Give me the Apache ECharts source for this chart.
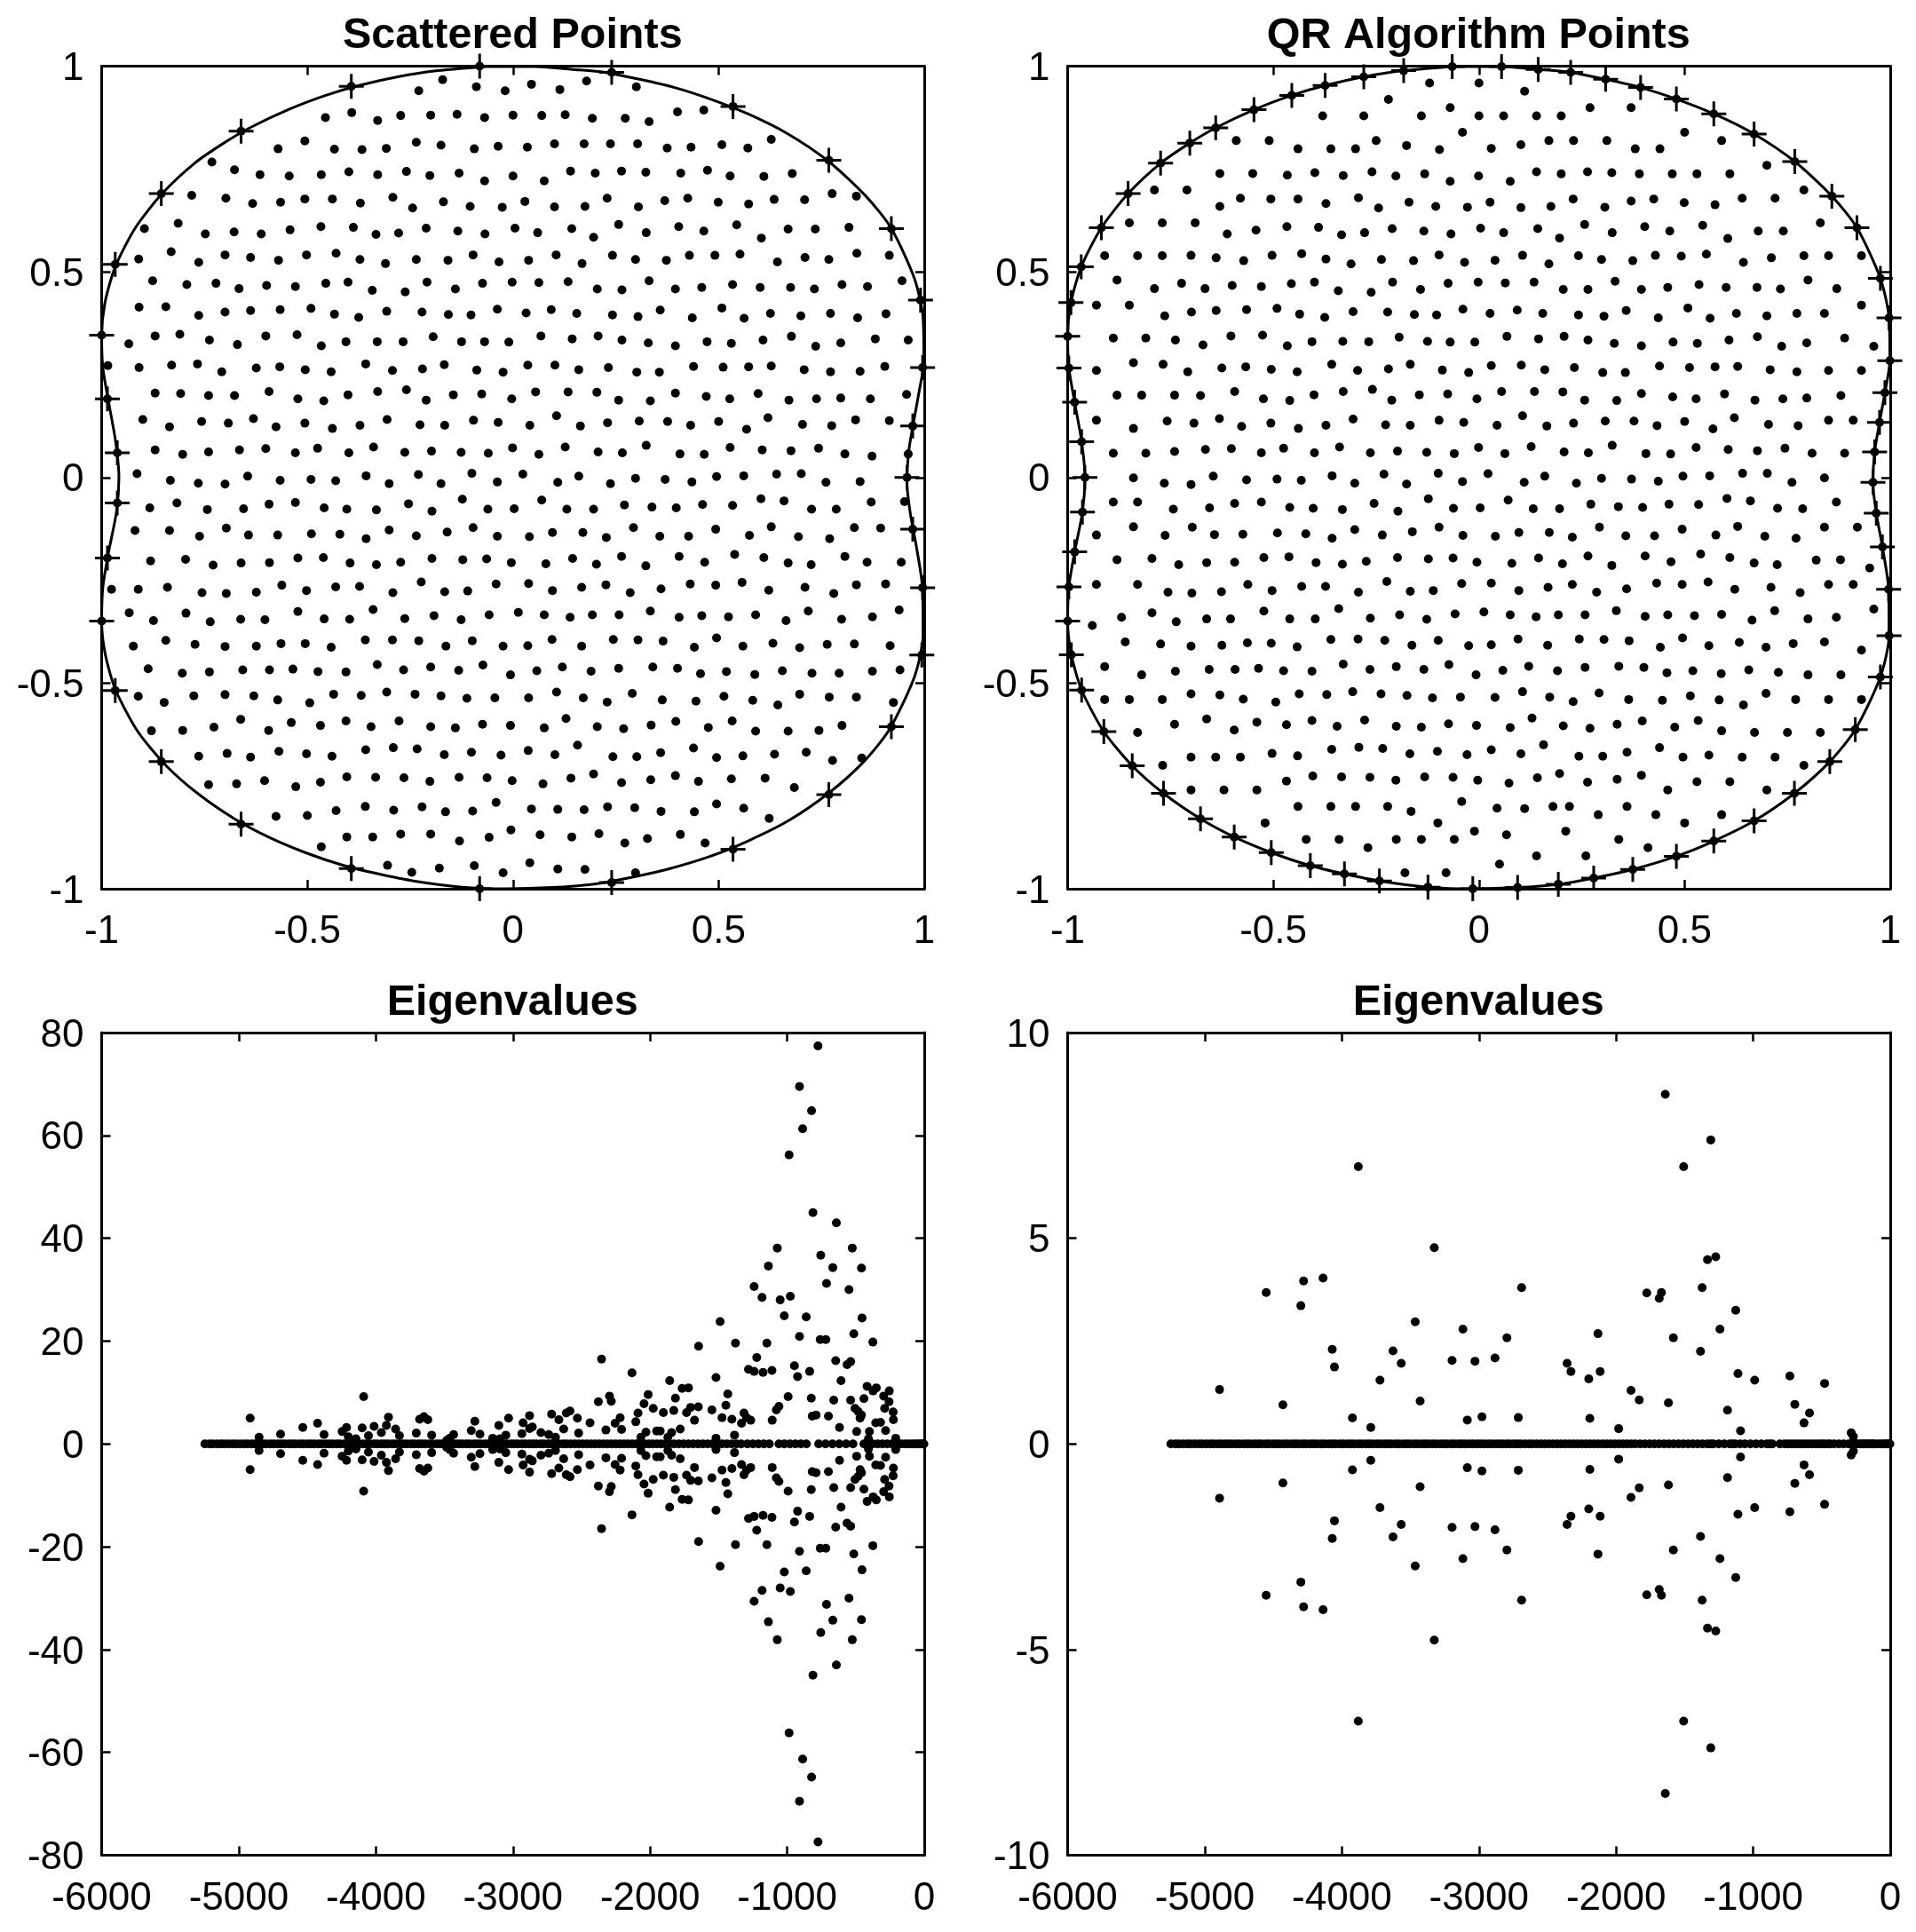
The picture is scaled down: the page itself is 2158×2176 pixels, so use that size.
<!DOCTYPE html>
<html><head><meta charset="utf-8">
<style>html,body{margin:0;padding:0;background:#fff}#c{width:2158px;height:2176px}</style>
<script src="https://cdn.jsdelivr.net/npm/echarts@6/dist/echarts.min.js"></script>
</head><body><div id="c"></div>
<script>
// x,y pairs
const scatteredBoundary=[-.081,1,-.393,.951,-.661,.842,-.855,.690,-.967,.518,-1,.346,-.986,.191,-.962,.060,-.962,-.062,-.986,-.196,-1,-.349,-.967,-.518,-.855,-.691,-.661,-.843,-.393,-.951,-.081,-1,.240,-.985,.535,-.904,.768,-.771,.920,-.606,.994,-.432,.996,-.268,.972,-.126,.958,0,.972,.125,.996,.267,.991,.431,.920,.605,.768,.771,.535,.902,.240,.985];
const scatteredInterior=[
-.229,.940,-.171,.967,-.089,.950,-.019,.940,.045,.956,.114,.943,.179,.964,.300,.950,
-.456,.875,-.392,.887,-.329,.868,-.273,.880,-.200,.881,-.136,.883,-.069,.875,0,.881,.070,.880,.127,.882,.193,.873,.273,.873,.331,.865,.400,.889,.464,.893,
-.571,.799,-.506,.818,-.434,.798,-.367,.797,-.308,.800,-.235,.815,-.175,.808,-.094,.799,-.036,.805,.035,.803,.101,.811,.173,.811,.237,.811,.303,.811,.375,.801,.433,.803,.508,.809,.571,.801,.628,.822,
-.732,.767,-.677,.748,-.615,.736,-.544,.733,-.466,.736,-.399,.743,-.329,.736,-.259,.744,-.202,.734,-.131,.740,-.069,.721,0,.733,.076,.721,.140,.745,.200,.740,.264,.745,.323,.742,.408,.740,.473,.747,.528,.733,.610,.732,.679,.739,
-.781,.686,-.698,.679,-.633,.666,-.565,.669,-.506,.677,-.439,.677,-.371,.667,-.292,.681,-.244,.655,-.169,.670,-.104,.659,-.026,.657,.029,.671,.101,.658,.175,.659,.229,.679,.305,.658,.369,.673,.425,.679,.499,.669,.573,.665,.635,.676,.709,.675,.776,.690,.835,.684,
-.896,.605,-.814,.618,-.748,.592,-.678,.597,-.612,.592,-.542,.602,-.467,.610,-.388,.608,-.333,.591,-.278,.594,-.211,.606,-.134,.599,-.068,.592,.005,.606,.060,.595,.143,.605,.196,.584,.257,.615,.324,.595,.403,.610,.464,.599,.544,.614,.604,.582,.669,.604,.735,.604,.817,.608,
-.910,.531,-.831,.549,-.764,.523,-.700,.541,-.638,.535,-.570,.528,-.502,.541,-.430,.545,-.372,.530,-.310,.520,-.235,.530,-.158,.528,-.097,.541,-.034,.524,.038,.528,.105,.541,.168,.520,.242,.540,.298,.530,.373,.528,.429,.540,.491,.540,.552,.543,.643,.524,.710,.535,.768,.530,.836,.545,.915,.540,
-.876,.478,-.793,.469,-.722,.472,-.666,.459,-.599,.467,-.529,.464,-.455,.472,-.401,.475,-.342,.455,-.262,.451,-.209,.475,-.140,.458,-.074,.472,-.002,.475,.063,.474,.134,.476,.205,.458,.265,.456,.331,.478,.395,.458,.459,.462,.534,.469,.601,.462,.675,.462,.733,.458,.800,.469,.862,.464,.946,.478,
-.909,.414,-.844,.415,-.764,.394,-.700,.402,-.638,.406,-.566,.408,-.491,.411,-.434,.397,-.375,.389,-.307,.404,-.221,.402,-.157,.396,-.102,.395,-.038,.409,.032,.400,.093,.408,.155,.399,.242,.395,.304,.391,.358,.407,.436,.388,.508,.412,.562,.387,.626,.399,.700,.393,.772,.399,.838,.388,.907,.398,
-.934,.325,-.870,.344,-.810,.348,-.738,.334,-.670,.323,-.601,.344,-.525,.347,-.466,.320,-.406,.330,-.330,.330,-.267,.330,-.194,.342,-.125,.330,-.069,.330,-.010,.329,.068,.344,.144,.337,.207,.344,.265,.334,.329,.327,.395,.320,.472,.330,.531,.326,.608,.334,.677,.343,.736,.319,.797,.327,.881,.337,.961,.334,
-.985,.272,-.909,.267,-.830,.273,-.767,.276,-.708,.257,-.624,.266,-.567,.269,-.505,.262,-.442,.257,-.358,.276,-.293,.260,-.220,.264,-.167,.274,-.088,.261,-.024,.256,.036,.273,.102,.273,.160,.262,.232,.267,.301,.256,.356,.256,.439,.270,.511,.268,.573,.269,.628,.271,.708,.262,.772,.257,.844,.258,.904,.270,
-.870,.205,-.808,.204,-.740,.199,-.677,.199,-.593,.209,-.523,.191,-.460,.186,-.401,.201,-.329,.209,-.259,.213,-.211,.188,-.145,.201,-.076,.203,-.003,.191,.055,.208,.134,.208,.204,.207,.257,.188,.334,.186,.395,.205,.470,.197,.527,.191,.596,.204,.671,.188,.738,.191,.797,.193,.869,.191,.957,.202,
-.900,.141,-.835,.123,-.757,.136,-.692,.132,-.631,.143,-.576,.123,-.506,.132,-.439,.119,-.372,.127,-.306,.141,-.226,.128,-.166,.127,-.096,.139,-.036,.134,.041,.127,.106,.150,.164,.125,.230,.133,.307,.137,.376,.136,.432,.127,.500,.136,.568,.117,.620,.145,.704,.129,.775,.126,.833,.140,.915,.138,
-.870,.067,-.803,.056,-.740,.062,-.665,.067,-.601,.070,-.529,.060,-.475,.071,-.399,.060,-.339,.074,-.263,.061,-.198,.064,-.126,.061,-.060,.059,-.001,.072,.063,.056,.127,.074,.207,.062,.266,.060,.324,.078,.406,.057,.465,.056,.528,.073,.606,.067,.676,.065,.743,.071,.807,.057,.873,.052,.961,.057,
-.914,.009,-.833,-.007,-.765,-.014,-.700,-.016,-.645,.003,-.566,-.007,-.491,-.005,-.431,-.008,-.357,.004,-.301,-.015,-.230,.007,-.175,-.015,-.100,.010,-.038,-.011,.024,.008,.109,-.012,.160,.003,.237,-.015,.298,-.002,.370,-.005,.435,-.011,.495,.002,.561,.004,.641,.008,.701,.009,.761,-.012,.844,-.010,
-.883,-.074,-.817,-.062,-.743,-.078,-.655,-.076,-.593,-.065,-.529,-.061,-.459,-.074,-.404,-.077,-.332,-.079,-.254,-.064,-.197,-.082,-.123,-.053,-.061,-.077,.003,-.076,.070,-.055,.131,-.077,.196,-.077,.271,-.067,.338,-.072,.397,-.074,.461,-.066,.534,-.068,.603,-.052,.659,-.057,.726,-.077,.786,-.077,.871,-.060,.952,-.059,
-.919,-.129,-.835,-.129,-.762,-.143,-.697,-.123,-.643,-.140,-.572,-.140,-.490,-.137,-.421,-.138,-.357,-.149,-.301,-.128,-.235,-.142,-.160,-.133,-.097,-.122,-.038,-.143,.040,-.144,.096,-.134,.170,-.134,.227,-.146,.293,-.122,.357,-.143,.427,-.143,.493,-.126,.575,-.141,.628,-.120,.694,-.144,.770,-.149,.830,-.122,.894,-.123,
-.881,-.203,-.796,-.199,-.729,-.213,-.661,-.208,-.592,-.207,-.523,-.196,-.461,-.195,-.396,-.208,-.332,-.212,-.273,-.206,-.197,-.197,-.122,-.200,-.064,-.198,-.004,-.207,.080,-.210,.145,-.197,.203,-.211,.264,-.192,.323,-.215,.404,-.192,.466,-.206,.539,-.187,.610,-.195,.669,-.208,.725,-.212,.807,-.192,.861,-.206,.944,-.206,
-.976,-.272,-.911,-.272,-.840,-.267,-.756,-.280,-.697,-.282,-.624,-.279,-.562,-.262,-.502,-.275,-.431,-.266,-.373,-.265,-.292,-.280,-.223,-.254,-.166,-.278,-.110,-.276,-.041,-.259,.038,-.258,.096,-.275,.167,-.267,.226,-.261,.285,-.280,.360,-.271,.431,-.259,.493,-.262,.557,-.255,.622,-.274,.710,-.267,.780,-.282,.835,-.261,.906,-.259,
-.933,-.329,-.874,-.348,-.795,-.330,-.736,-.351,-.662,-.345,-.603,-.346,-.523,-.326,-.459,-.344,-.397,-.345,-.340,-.321,-.263,-.343,-.192,-.336,-.126,-.346,-.058,-.334,.013,-.328,.076,-.334,.139,-.340,.193,-.334,.258,-.334,.334,-.325,.404,-.340,.459,-.336,.524,-.339,.590,-.334,.664,-.348,.718,-.325,.799,-.345,.874,-.339,.939,-.322,
-.923,-.410,-.844,-.396,-.773,-.406,-.700,-.411,-.624,-.410,-.564,-.404,-.505,-.404,-.442,-.413,-.359,-.395,-.293,-.395,-.229,-.397,-.163,-.410,-.099,-.397,-.024,-.410,.036,-.409,.095,-.394,.167,-.410,.244,-.394,.304,-.395,.365,-.398,.441,-.413,.495,-.390,.559,-.410,.632,-.403,.697,-.414,.764,-.406,.830,-.405,.917,-.409,
-.887,-.465,-.804,-.476,-.738,-.473,-.657,-.468,-.592,-.468,-.535,-.466,-.474,-.472,-.406,-.473,-.330,-.455,-.266,-.468,-.200,-.461,-.132,-.469,-.073,-.456,-.006,-.480,.058,-.470,.120,-.461,.190,-.471,.257,-.464,.340,-.461,.400,-.464,.456,-.477,.519,-.472,.588,-.479,.655,-.470,.727,-.476,.793,-.476,.874,-.471,.941,-.468,
-.911,-.532,-.848,-.547,-.776,-.531,-.700,-.528,-.630,-.531,-.572,-.541,-.494,-.548,-.436,-.527,-.369,-.530,-.307,-.522,-.238,-.527,-.175,-.531,-.112,-.537,-.044,-.536,.038,-.536,.106,-.522,.171,-.536,.229,-.546,.290,-.525,.363,-.541,.445,-.544,.513,-.532,.583,-.542,.644,-.553,.697,-.527,.769,-.534,.835,-.534,.925,-.547,
-.879,-.616,-.803,-.615,-.727,-.607,-.662,-.588,-.594,-.615,-.539,-.596,-.468,-.603,-.406,-.592,-.345,-.606,-.277,-.592,-.200,-.606,-.140,-.609,-.074,-.600,-.006,-.603,.076,-.609,.129,-.586,.205,-.606,.269,-.611,.336,-.602,.396,-.593,.475,-.608,.533,-.592,.590,-.617,.669,-.617,.744,-.615,.800,-.603,
-.764,-.678,-.695,-.671,-.638,-.680,-.569,-.666,-.502,-.672,-.440,-.678,-.358,-.662,-.291,-.657,-.233,-.660,-.167,-.674,-.101,-.668,-.029,-.675,.037,-.664,.102,-.674,.157,-.651,.243,-.679,.301,-.679,.359,-.669,.439,-.658,.495,-.681,.559,-.677,.636,-.673,.713,-.668,.777,-.688,.848,-.682,
-.740,-.747,-.672,-.745,-.604,-.737,-.528,-.752,-.468,-.741,-.404,-.728,-.334,-.729,-.265,-.730,-.202,-.739,-.131,-.729,-.063,-.730,-.002,-.737,.073,-.745,.141,-.731,.196,-.721,.264,-.742,.335,-.735,.395,-.725,.451,-.739,.531,-.733,.613,-.731,.684,-.754,
-.576,-.824,-.500,-.822,-.430,-.810,-.359,-.800,-.290,-.809,-.221,-.801,-.164,-.813,-.098,-.811,-.041,-.790,.045,-.806,.109,-.807,.173,-.808,.230,-.801,.296,-.803,.360,-.812,.441,-.813,.495,-.794,.561,-.804,.623,-.829,
-.466,-.898,-.404,-.874,-.341,-.874,-.273,-.867,-.200,-.867,-.130,-.884,-.058,-.875,-.005,-.857,.066,-.869,.143,-.874,.209,-.866,.272,-.889,.327,-.878,.407,-.868,.467,-.889,
-.305,-.943,-.246,-.960,-.179,-.950,-.094,-.944,-.024,-.961,.041,-.937,.109,-.952,.175,-.953,.298,-.961];
const qrBoundary=[-.065,.999,-.183,.989,-.280,.974,-.374,.953,-.455,.929,-.547,.894,-.640,.850,-.703,.813,-.774,.764,-.853,.690,-.918,.607,-.967,.512,-.992,.425,-1,.343,-.997,.266,-.983,.183,-.966,.087,-.958,0,-.964,-.084,-.983,-.181,-.997,-.266,-1,-.349,-.991,-.431,-.966,-.517,-.912,-.618,-.843,-.701,-.767,-.768,-.677,-.830,-.595,-.874,-.505,-.912,-.410,-.944,-.327,-.964,-.242,-.981,-.124,-.996,-.015,-1,.094,-.997,.193,-.989,.279,-.974,.374,-.953,.480,-.921,.571,-.884,.669,-.835,.767,-.768,.853,-.691,.915,-.613,.976,-.485,.997,-.385,.996,-.272,.981,-.169,.966,-.087,.958,-.012,.962,.062,.974,.134,.987,.206,.999,.284,.997,.388,.976,.484,.919,.607,.858,.684,.768,.768,.669,.835,.571,.884,.480,.920,.393,.948,.308,.968,.223,.985,.144,.992,.055,.999];
const qrInterior=[
-.120,.959,0,.959,.111,.939,
-.220,.919,-.380,.879,-.280,.879,-.140,.879,-.070,.899,0,.879,.060,.879,.140,.879,.200,.879,.270,.899,.370,.899,
-.590,.819,-.510,.819,-.440,.799,-.360,.799,-.300,.799,-.250,.819,-.176,.807,-.096,.797,-.040,.839,.030,.800,.102,.809,.170,.819,.230,.819,.311,.819,.380,.799,.440,.799,.500,.839,.590,.819,
-.630,.739,-.550,.739,-.466,.735,-.399,.741,-.330,.734,-.260,.743,-.202,.733,-.132,.738,-.070,.720,-.001,.733,.076,.720,.140,.743,.200,.738,.264,.743,.323,.741,.390,.738,.470,.738,.530,.738,.610,.738,.700,.759,
-.789,.699,-.710,.699,-.630,.659,-.580,.679,-.506,.677,-.440,.677,-.372,.666,-.293,.680,-.244,.655,-.170,.669,-.105,.659,-.028,.657,.027,.669,.102,.656,.175,.659,.229,.677,.306,.657,.370,.672,.425,.677,.499,.668,.574,.663,.640,.679,.720,.679,.790,.699,
-.850,.619,-.770,.619,-.690,.619,-.612,.592,-.542,.601,-.467,.610,-.390,.608,-.334,.590,-.278,.595,-.211,.605,-.134,.599,-.068,.592,.004,.606,.060,.595,.143,.605,.196,.582,.257,.615,.324,.595,.403,.610,.464,.599,.544,.613,.605,.581,.679,.599,.740,.599,.830,.619,
-.910,.539,-.830,.539,-.770,.539,-.700,.540,-.639,.534,-.572,.527,-.503,.540,-.431,.544,-.372,.531,-.311,.519,-.237,.530,-.159,.527,-.097,.541,-.035,.523,.039,.528,.106,.540,.170,.519,.242,.539,.298,.530,.374,.527,.429,.540,.492,.538,.553,.543,.643,.523,.711,.534,.790,.539,.850,.539,.930,.539,
-.880,.480,-.789,.459,-.723,.472,-.666,.459,-.600,.467,-.529,.464,-.456,.471,-.400,.475,-.342,.454,-.262,.450,-.210,.475,-.142,.457,-.075,.472,-.002,.475,.064,.473,.134,.475,.205,.457,.265,.457,.331,.477,.395,.457,.459,.462,.535,.469,.601,.462,.676,.462,.733,.458,.800,.480,.870,.459,
-.930,.419,-.850,.419,-.764,.393,-.699,.402,-.639,.406,-.565,.408,-.491,.411,-.436,.397,-.375,.389,-.306,.403,-.222,.402,-.157,.396,-.103,.395,-.039,.409,.027,.399,.093,.407,.155,.399,.242,.395,.304,.392,.358,.406,.436,.388,.508,.412,.562,.387,.626,.399,.700,.393,.773,.399,.840,.399,.930,.419,
-.889,.339,-.810,.339,-.738,.334,-.671,.322,-.603,.344,-.526,.346,-.466,.320,-.406,.330,-.331,.331,-.268,.330,-.194,.341,-.125,.331,-.070,.329,-.010,.329,.068,.343,.145,.337,.207,.343,.265,.334,.329,.326,.395,.320,.472,.329,.531,.326,.608,.334,.677,.342,.736,.319,.797,.327,.889,.339,.960,.319,
-.930,.260,-.840,.279,-.768,.275,-.708,.257,-.625,.266,-.567,.269,-.505,.263,-.442,.257,-.358,.275,-.295,.260,-.220,.264,-.167,.275,-.089,.261,-.025,.255,.030,.272,.103,.273,.160,.262,.232,.267,.301,.255,.356,.255,.439,.271,.512,.267,.574,.269,.629,.270,.708,.262,.773,.257,.850,.260,.930,.260,
-.880,.200,-.820,.200,-.740,.200,-.677,.199,-.594,.209,-.524,.191,-.460,.187,-.401,.201,-.330,.209,-.259,.214,-.212,.188,-.145,.201,-.076,.203,-.005,.191,.055,.209,.135,.209,.204,.208,.257,.188,.335,.187,.395,.204,.471,.196,.528,.191,.597,.203,.671,.188,.739,.191,.797,.193,.880,.199,
-.930,.139,-.840,.119,-.758,.137,-.693,.132,-.631,.143,-.577,.124,-.506,.132,-.439,.119,-.372,.127,-.306,.142,-.227,.128,-.167,.127,-.097,.139,-.037,.134,.044,.127,.106,.150,.165,.125,.230,.132,.307,.137,.377,.137,.433,.126,.500,.136,.569,.118,.621,.145,.704,.129,.776,.126,.850,.139,.910,.139,
-.889,.059,-.810,.059,-.740,.063,-.665,.068,-.602,.070,-.529,.060,-.475,.071,-.400,.060,-.339,.074,-.264,.060,-.198,.064,-.127,.061,-.060,.058,-.001,.073,.063,.058,.127,.075,.207,.062,.266,.060,.324,.078,.406,.058,.466,.057,.528,.073,.606,.068,.677,.065,.744,.071,.810,.059,.889,.059,
-.840,-.001,-.765,-.014,-.700,-.017,-.646,.003,-.565,-.006,-.491,-.004,-.432,-.007,-.357,.004,-.302,-.014,-.231,.008,-.176,-.016,-.099,.010,-.040,-.010,.022,.009,.110,-.012,.160,.003,.237,-.014,.298,-.002,.371,-.004,.436,-.009,.496,.003,.561,.004,.641,.010,.701,.010,.761,-.012,.840,-.001,
-.889,-.060,-.830,-.060,-.743,-.077,-.655,-.074,-.594,-.063,-.529,-.060,-.460,-.073,-.403,-.075,-.332,-.078,-.255,-.063,-.197,-.082,-.123,-.052,-.062,-.075,.003,-.074,.071,-.055,.132,-.076,.196,-.076,.272,-.065,.339,-.071,.398,-.073,.462,-.065,.534,-.066,.603,-.051,.660,-.057,.726,-.075,.787,-.076,.869,-.060,
-.930,-.140,-.840,-.120,-.763,-.141,-.697,-.121,-.643,-.139,-.574,-.138,-.490,-.135,-.421,-.137,-.357,-.148,-.302,-.127,-.235,-.140,-.162,-.132,-.097,-.121,-.039,-.141,.040,-.143,.097,-.134,.171,-.134,.227,-.145,.293,-.121,.357,-.142,.427,-.142,.494,-.126,.576,-.140,.629,-.119,.695,-.143,.771,-.148,.840,-.121,.920,-.121,
-.880,-.200,-.795,-.197,-.730,-.212,-.662,-.207,-.594,-.206,-.523,-.195,-.462,-.193,-.396,-.207,-.332,-.211,-.274,-.204,-.198,-.195,-.123,-.198,-.063,-.196,-.005,-.206,.080,-.209,.145,-.196,.203,-.210,.265,-.191,.323,-.214,.404,-.191,.467,-.205,.539,-.186,.610,-.195,.669,-.208,.725,-.212,.820,-.201,.879,-.200,.950,-.220,
-.930,-.260,-.830,-.260,-.756,-.279,-.698,-.281,-.626,-.278,-.562,-.260,-.503,-.275,-.431,-.265,-.373,-.265,-.293,-.279,-.224,-.253,-.167,-.277,-.111,-.275,-.042,-.258,.030,-.257,.097,-.275,.168,-.267,.227,-.260,.286,-.279,.359,-.271,.432,-.257,.494,-.260,.557,-.254,.622,-.272,.710,-.267,.781,-.280,.850,-.260,.910,-.260,
-.940,-.360,-.869,-.340,-.795,-.329,-.736,-.351,-.662,-.344,-.604,-.344,-.523,-.325,-.460,-.344,-.398,-.344,-.341,-.319,-.264,-.342,-.193,-.334,-.127,-.345,-.058,-.332,.012,-.327,.076,-.334,.139,-.339,.193,-.334,.258,-.334,.334,-.324,.404,-.338,.459,-.334,.524,-.336,.590,-.333,.664,-.347,.719,-.324,.800,-.344,.869,-.340,.960,-.320,
-.860,-.400,-.774,-.405,-.700,-.410,-.625,-.408,-.563,-.402,-.505,-.403,-.442,-.412,-.360,-.394,-.294,-.393,-.229,-.396,-.163,-.408,-.099,-.396,-.025,-.409,.030,-.407,.095,-.393,.167,-.408,.244,-.393,.304,-.394,.365,-.397,.441,-.413,.495,-.390,.559,-.409,.633,-.401,.698,-.413,.764,-.404,.840,-.400,.930,-.420,
-.910,-.460,-.820,-.480,-.738,-.471,-.656,-.467,-.593,-.467,-.536,-.464,-.475,-.470,-.406,-.471,-.330,-.454,-.265,-.467,-.201,-.460,-.134,-.467,-.073,-.455,-.007,-.480,.058,-.469,.121,-.459,.191,-.470,.258,-.462,.340,-.459,.401,-.462,.457,-.475,.520,-.470,.589,-.477,.656,-.468,.728,-.474,.800,-.480,.880,-.480,
-.910,-.540,-.850,-.540,-.770,-.540,-.700,-.526,-.630,-.529,-.573,-.539,-.494,-.546,-.437,-.526,-.370,-.528,-.307,-.521,-.238,-.526,-.175,-.530,-.113,-.536,-.045,-.534,.039,-.535,.106,-.521,.172,-.534,.229,-.545,.292,-.524,.364,-.540,.446,-.542,.514,-.531,.584,-.541,.643,-.553,.698,-.525,.770,-.540,.850,-.540,.930,-.540,
-.830,-.620,-.740,-.600,-.662,-.587,-.595,-.614,-.540,-.595,-.468,-.601,-.406,-.591,-.345,-.605,-.278,-.590,-.201,-.605,-.140,-.607,-.074,-.599,-.006,-.603,.076,-.608,.129,-.585,.205,-.604,.270,-.610,.336,-.600,.397,-.592,.476,-.607,.533,-.591,.590,-.616,.670,-.620,.750,-.620,.830,-.620,
-.769,-.700,-.700,-.680,-.640,-.680,-.580,-.680,-.503,-.671,-.441,-.677,-.358,-.661,-.292,-.656,-.234,-.659,-.168,-.672,-.101,-.666,-.029,-.674,.030,-.662,.102,-.672,.157,-.650,.243,-.678,.301,-.678,.360,-.668,.439,-.657,.496,-.680,.559,-.675,.640,-.680,.720,-.680,.790,-.700,
-.700,-.760,-.620,-.760,-.540,-.760,-.468,-.738,-.404,-.726,-.334,-.728,-.265,-.729,-.202,-.736,-.132,-.728,-.063,-.729,-.003,-.736,.073,-.743,.142,-.730,.196,-.720,.264,-.741,.336,-.734,.395,-.724,.459,-.760,.530,-.740,.610,-.740,.700,-.760,
-.520,-.840,-.440,-.800,-.360,-.800,-.300,-.800,-.222,-.800,-.165,-.812,-.042,-.788,-.100,-.840,.044,-.804,.111,-.805,.180,-.800,.220,-.800,.290,-.820,.360,-.800,.430,-.820,.500,-.840,.590,-.820,
-.420,-.880,-.340,-.880,-.270,-.900,-.201,-.880,-.140,-.880,-.060,-.880,-.011,-.860,.067,-.869,.211,-.860,.340,-.880,.411,-.900,
-.180,-.961,-.080,-.961,.050,-.940,.140,-.920,.260,-.920];
// eigenvalues with a non-zero imaginary part, upper half: real, imag; each has a conjugate partner
const eigLeftPairs=[
-775,77.4,-910,69.5,-822,64.8,-887,61.3,-986,56.2,-812,45,-641,43,-1072,38.1,-525,38.1,-755,36.7,-1137,34.6,-667,34.3,-458,34.2,-1241,30.6,-713,31.2,-549,30,-1183,28.5,-977,28.7,-1051,28,-1021,24.9,-861,24.7,-454,24.5,-1489,23.8,-910,20.9,-514,21.4,-759,20.3,-718,20.3,-375,19.8,-1646,19,-1377,19.6,-1148,19.6,-1222,16.8,-2354,16.5,-646,16.2,-537,16,-563,15.4,-947,15.2,-1282,14.5,-1241,14.1,-1176,13.9,-1111,14.3,-836,14.1,-2132,13.8,-924,13.1,-1519,12.9,-607,12.3,-1857,12.3,-1766,10.8,-1720,10.9,-417,11.2,-350,10.9,-373,10.3,-255,10.3,-2014,9.6,-1433,9.7,-2296,9.3,-993,9.2,-296,9.3,-440,8.8,-824,8.9,-1815,8.9,-660,8.5,-537,8.5,-257,8.2,-2377,8.2,-2283,8.3,-2044,7.8,-1447,7.5,-1060,7.3,-1704,7.1,-1648,7.2,-505,6.9,-289,6.9,-1977,6.9,-1079,6.6,-1827,6.5,-1549,6.6,-1734,6.1,-1903,6.1,-2088,6,-1315,6,-482,6.3,-227,6.2,-2584,6.4,-2611,6,-2718,5.8,-2530,5,-2218,5.1,-2665,4.7,-789,5.6,-817,5.4,-699,5.4,-458,5.6,-468,5,-1475,5.1,-1403,4.8,-1676,4.6,-1109,4.6,-1296,5.1,-1266,4.6,-1333,4,-225,4.7,-2438,4.1,-2255,4,-2104,4.3,-354,4.1,-319,4.2,-618,3.2,-2859,3.3,-2208,2.8,-2630,2.9,-1780,2.9,-2322,2.7,-282,2.6,-2796,2.2,-2521,2.1,-2030,2.3,-1952,2.5,-1926,2.5,-1843,2.2,-493,2.4,-400,2.4,-1384,1.7,-2739,1.8,-2690,1.3,-2067,1.3,-1870,1.3,-1519,1.1,-208,1.1,-407,1,
-4917,5,-4852,1.3,-4695,1.9,-4533,3.2,-4425,4,-4378,1.8,-4246,2.4,-4214,3.2,-4201,1.4,-4145,1,-4100,3.1,-4089,9.2,-4013,3.4,-4054,1.6,-3960,2.2,-3923,3.6,-3908,5.2,-3856,2.9,-3828,1.6,-3705,2.1,-3681,4.8,-3649,5.3,-3621,4.7,-3593,1.7,-3483,.7,-3461,1.1,-3433,1.8,-3304,2.6,-3278,4.4,-3241,1.9,-3148,1.1,-3103,3.6,-3095,1,-3052,1.7,-3032,5,-2926,4.1,-2935,2,-2879,5.5,-2879,3];
const eigRightPairs=[
-1641,8.5,-1309,7.39,-3880,6.74,-1507,6.74,-3326,4.77,-1273,4.55,-1333,4.48,-4137,4.03,-4279,3.96,-4552,3.68,-2689,3.8,-1372,3.8,-1776,3.67,-1669,3.68,-1685,3.54,-4299,3.36,-1127,3.25,-3465,2.97,-3117,2.79,-1242,2.79,-2132,2.68,-2796,2.58,-1582,2.58,-1384,2.25,-4070,2.3,-3627,2.26,-3196,2.03,-3029,2.01,-2883,2.09,-3567,1.96,-4054,1.87,-2357,1.96,-2329,1.76,-2116,1.76,-2199,1.58,-1111,1.71,-989,1.55,-732,1.65,-479,1.47,-3722,1.55,-4892,1.32,-1891,1.3,-1831,1.07,-1618,1,-3429,1.04,-4430,.95,-696,.96,-1187,.82,-589,.75,-3923,.63,-3085,.58,-2978,.66,-2713,.64,-2191,.62,-629,.51,-3789,.4,-1981,.37,-1092,.32,-285,.27,-269,.18];
// real eigenvalues
const eigReal=[-5247,-5215,-5190,-5160,-5130,-5105,-5075,-5045,-5020,-4990,-4960,-4935,-4905,-4880,-4852,-4825,-4800,-4770,-4745,-4715,-4690,-4665,-4635,-4610,-4585,-4555,-4530,-4500,-4475,-4450,-4420,-4395,-4365,-4340,-4315,-4285,-4260,-4230,-4205,-4180,-4150,-4125,-4095,-4070,-4045,-4015,-3990,-3960,-3935,-3910,-3880,-3855,-3825,-3800,-3775,-3745,-3720,-3690,-3665,-3640,-3610,-3585,-3555,-3530,-3505,-3475,-3450,-3420,-3395,-3370,-3340,-3315,-3285,-3260,-3235,-3205,-3180,-3150,-3125,-3100,-3070,-3045,-3015,-2990,-2965,-2935,-2910,-2880,-2855,-2830,-2800,-2775,-2745,-2720,-2695,-2665,-2635,-2610,-2580,-2550,-2520,-2490,-2460,-2430,-2400,-2370,-2340,-2310,-2280,-2250,-2220,-2190,-2160,-2130,-2100,-2070,-2040,-2010,-1980,-1950,-1920,-1890,-1860,-1825,-1790,-1755,-1720,-1685,-1650,-1615,-1580,-1545,-1510,-1475,-1440,-1405,-1370,-1335,-1290,-1250,-1210,-1170,-1130,-1060,-1020,-980,-940,-900,-860,-770,-720,-670,-620,-570,-520,-440,-410,-375,-340,-305,-270,-235,-200,-170,-140,-115,-90,-70,-50,-35,-20,-10,-3];
const eigRealExtra=[-1095,-805,-480,-1310,-1150,-880,-745,-695,-645,-595,-545,-500,-455,-290,-250,-215,-185,-155,-128];
const unitTicks={min:-1,max:1,step:.5};
const eigXTicks={min:-6000,max:0,step:1000};
const eigLeftYTicks={min:-80,max:80,step:20};
const eigRightYTicks={min:-10,max:10,step:5};
const titles=['Scattered Points','QR Algorithm Points','Eigenvalues','Eigenvalues'];

const pairs=a=>{const r=[];for(let i=0;i<a.length;i+=2)r.push([a[i],a[i+1]]);return r;};
const conj=a=>pairs(a).flatMap(p=>[p,[p[0],-p[1]]]);
const onAxis=a=>a.map(v=>[v,0]);
const FONT='"Liberation Sans"',TICK=44,LW=3;
const cols=[114.5,1202.5],rows=[74.5,1163],S=926.5;
const plus='path://M-1.5,-14H1.5V-1.5H14V1.5H1.5V14H-1.5V1.5H-14V-1.5H-1.5Z';
const cells=[
 {c:0,r:0,x:unitTicks,y:unitTicks},{c:1,r:0,x:unitTicks,y:unitTicks},
 {c:0,r:1,x:eigXTicks,y:eigLeftYTicks},{c:1,r:1,x:eigXTicks,y:eigRightYTicks}];
const opt={animation:false,backgroundColor:'#fff',title:[],grid:[],xAxis:[],yAxis:[],series:[]};
function axis(t,pos,gi,labels){const horiz=pos==='bottom'||pos==='top';
 const label={show:labels,color:'#000',fontFamily:FONT,fontSize:TICK,margin:horiz?27:20,formatter:v=>String(v)};
 if(!horiz){label.verticalAlign='top';label.lineHeight=7;}
 return {type:'value',gridIndex:gi,position:pos,min:t.min,max:t.max,interval:t.step,
 axisLine:{show:true,onZero:false,lineStyle:{color:'#000',width:LW}},
 axisTick:{show:true,inside:true,length:10,lineStyle:{color:'#000',width:2.5}},
 splitLine:{show:false},
 axisLabel:label};}
cells.forEach((k,i)=>{
 const left=cols[k.c],top=rows[k.r];
 opt.grid.push({left,top,width:S,height:S,containLabel:false});
 opt.title.push({text:titles[i],left:left+S/2-5.5,top:top-63,textAlign:'center',textStyle:{fontFamily:FONT,fontSize:48.5,fontWeight:'bold',color:'#000'}});
 opt.xAxis.push(axis(k.x,'bottom',i,true),axis(k.x,'top',i,false));
 opt.yAxis.push(axis(k.y,'left',i,true),axis(k.y,'right',i,false));
});
const ax=i=>({xAxisIndex:i*2,yAxisIndex:i*2});
const dots=(i,data)=>({type:'scatter',...ax(i),data,symbol:'circle',symbolSize:10,clip:false,silent:true,itemStyle:{color:'#000',opacity:1},z:3});
const marks=(i,data)=>({type:'scatter',...ax(i),data,symbol:plus,symbolSize:28,clip:false,silent:true,itemStyle:{color:'#000',opacity:1},z:4});
const closed=a=>pairs(a).concat([[a[0],a[1]]]);
const curve=i=>({type:'line',...ax(i),data:closed(qrBoundary),showSymbol:false,symbol:'none',smooth:.25,clip:false,silent:true,lineStyle:{color:'#000',width:3,opacity:1},z:2});
opt.series.push(curve(0),dots(0,pairs(scatteredInterior)),dots(0,pairs(scatteredBoundary)),marks(0,pairs(scatteredBoundary)));
opt.series.push(curve(1),dots(1,pairs(qrInterior)),dots(1,pairs(qrBoundary)),marks(1,pairs(qrBoundary)));
opt.series.push(dots(2,conj(eigLeftPairs)),dots(2,onAxis(eigReal)));
opt.series.push(dots(3,conj(eigRightPairs)),dots(3,onAxis(eigReal)),dots(3,onAxis(eigRealExtra)));
const chart=echarts.init(document.getElementById('c'),null,{renderer:'canvas',width:2158,height:2176});
chart.setOption(opt);
</script></body></html>
